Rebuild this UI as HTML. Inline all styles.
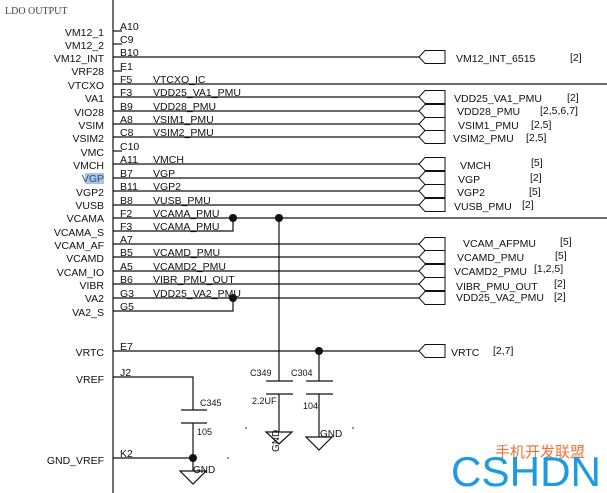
<!DOCTYPE html>
<html><head><meta charset="utf-8"><style>
html,body{margin:0;padding:0;background:#fff;}
svg{display:block;}
text{font-family:"Liberation Sans","Noto Sans CJK SC",sans-serif;font-size:10.5px;fill:#111;}
.r{text-anchor:end;}
</style></head><body>
<svg width="607" height="493" viewBox="0 0 607 493" xmlns="http://www.w3.org/2000/svg">
<g stroke="#111" stroke-width="1.2" fill="none">
<line x1="113" y1="0" x2="113" y2="493"/>
<line x1="113" y1="31" x2="122" y2="31"/>
<line x1="113" y1="44" x2="122" y2="44"/>
<line x1="113" y1="71" x2="122" y2="71"/>
<line x1="113" y1="151" x2="122" y2="151"/>
<line x1="113" y1="57" x2="419" y2="57"/>
<line x1="113" y1="97" x2="419" y2="97"/>
<line x1="113" y1="111" x2="419" y2="111"/>
<line x1="113" y1="124" x2="419" y2="124"/>
<line x1="113" y1="137" x2="419" y2="137"/>
<line x1="113" y1="164" x2="419" y2="164"/>
<line x1="113" y1="178" x2="419" y2="178"/>
<line x1="113" y1="191" x2="419" y2="191"/>
<line x1="113" y1="205" x2="419" y2="205"/>
<line x1="113" y1="244" x2="419" y2="244"/>
<line x1="113" y1="257" x2="419" y2="257"/>
<line x1="113" y1="271" x2="419" y2="271"/>
<line x1="113" y1="284" x2="419" y2="284"/>
<line x1="113" y1="298" x2="419" y2="298"/>
<line x1="113" y1="351" x2="419" y2="351"/>
<line x1="113" y1="84" x2="607" y2="84"/>
<line x1="113" y1="218" x2="607" y2="218"/>
<polyline points="113,231 233,231 233,218"/>
<polyline points="113,311 233,311 233,298"/>
<line x1="279" y1="218" x2="279" y2="381"/>
<line x1="266" y1="381" x2="293" y2="381"/>
<line x1="266" y1="394" x2="293" y2="394"/>
<line x1="279" y1="394" x2="279" y2="432"/>
<polygon points="266,432 292,432 279,444"/>
<line x1="319" y1="351" x2="319" y2="381"/>
<line x1="306" y1="381" x2="333" y2="381"/>
<line x1="306" y1="394" x2="333" y2="394"/>
<line x1="319" y1="394" x2="319" y2="437"/>
<polygon points="306,437 332,437 319,450"/>
<polyline points="113,377 193,377 193,410"/>
<line x1="181" y1="410" x2="207" y2="410"/>
<line x1="181" y1="423" x2="207" y2="423"/>
<line x1="193" y1="423" x2="193" y2="471"/>
<line x1="113" y1="458" x2="193" y2="458"/>
<polygon points="180,471 206,471 193,484"/>
</g>
<g fill="#111">
<circle cx="233" cy="218" r="4"/><circle cx="279" cy="218" r="4"/>
<circle cx="233" cy="298" r="4"/><circle cx="319" cy="351" r="4"/>
<circle cx="193" cy="458" r="4"/>
<circle cx="246" cy="428" r="0.8"/><circle cx="228" cy="458" r="0.8"/><circle cx="353" cy="428" r="0.8"/>
</g>
<g stroke="#111" stroke-width="1" fill="#fff">
<path id="c" d="M419,0 L425,-6.5 L445,-6.5 L445,6.5 L425,6.5 Z" transform="translate(0,57)"/>
<use href="#c" y="40"/><use href="#c" y="54"/><use href="#c" y="67"/><use href="#c" y="80"/>
<use href="#c" y="107"/><use href="#c" y="121"/><use href="#c" y="134"/><use href="#c" y="148"/>
<use href="#c" y="187"/><use href="#c" y="200"/><use href="#c" y="214"/><use href="#c" y="227"/><use href="#c" y="241"/>
<use href="#c" y="294"/>
</g>
<text x="5" y="14" style="font-family:'Liberation Serif',serif;font-size:10px;fill:#444">LDO OUTPUT</text>
<g>
<text class="r" x="104" y="36">VM12_1</text>
<text class="r" x="104" y="49">VM12_2</text>
<text class="r" x="104" y="62">VM12_INT</text>
<text class="r" x="104" y="75">VRF28</text>
<text class="r" x="104" y="89">VTCXO</text>
<text class="r" x="104" y="102">VA1</text>
<text class="r" x="104" y="116">VIO28</text>
<text class="r" x="104" y="129">VSIM</text>
<text class="r" x="104" y="142">VSIM2</text>
<text class="r" x="104" y="156">VMC</text>
<text class="r" x="104" y="169">VMCH</text>
<rect x="85" y="173" width="19" height="11" fill="#a9c4dc"/>
<text class="r" x="104" y="182" style="fill:#2a4f8a">VGP</text>
<text class="r" x="104" y="196">VGP2</text>
<text class="r" x="104" y="209">VUSB</text>
<text class="r" x="104" y="222">VCAMA</text>
<text class="r" x="104" y="236">VCAMA_S</text>
<text class="r" x="104" y="249">VCAM_AF</text>
<text class="r" x="104" y="262">VCAMD</text>
<text class="r" x="104" y="276">VCAM_IO</text>
<text class="r" x="104" y="289">VIBR</text>
<text class="r" x="104" y="302">VA2</text>
<text class="r" x="104" y="316">VA2_S</text>
<text class="r" x="104" y="356">VRTC</text>
<text class="r" x="104" y="383">VREF</text>
<text class="r" x="104" y="464">GND_VREF</text>
</g>
<g>
<text x="120" y="30">A10</text><text x="120" y="43">C9</text><text x="120" y="56">B10</text>
<text x="120" y="70">E1</text><text x="120" y="83">F5</text><text x="120" y="96">F3</text>
<text x="120" y="110">B9</text><text x="120" y="123">A8</text><text x="120" y="136">C8</text>
<text x="120" y="150">C10</text><text x="120" y="163">A11</text><text x="120" y="177">B7</text>
<text x="120" y="190">B11</text><text x="120" y="204">B8</text><text x="120" y="217">F2</text>
<text x="120" y="230">F3</text><text x="120" y="243">A7</text><text x="120" y="256">B5</text>
<text x="120" y="270">A5</text><text x="120" y="283">B6</text><text x="120" y="297">G3</text>
<text x="120" y="310">G5</text><text x="120" y="350">E7</text><text x="120" y="376">J2</text>
<text x="120" y="457">K2</text>
<text x="153" y="83">VTCXO_IC</text><text x="153" y="96">VDD25_VA1_PMU</text>
<text x="153" y="110">VDD28_PMU</text><text x="153" y="123">VSIM1_PMU</text>
<text x="153" y="136">VSIM2_PMU</text><text x="153" y="163">VMCH</text>
<text x="153" y="177">VGP</text><text x="153" y="190">VGP2</text>
<text x="153" y="204">VUSB_PMU</text><text x="153" y="217">VCAMA_PMU</text>
<text x="153" y="230">VCAMA_PMU</text><text x="153" y="256">VCAMD_PMU</text>
<text x="153" y="270">VCAMD2_PMU</text><text x="153" y="283">VIBR_PMU_OUT</text>
<text x="153" y="297">VDD25_VA2_PMU</text>
</g>
<g>
<text x="456" y="62">VM12_INT_6515</text><text x="570" y="61">[2]</text>
<text x="454" y="102">VDD25_VA1_PMU</text><text x="567" y="101">[2]</text>
<text x="457" y="115">VDD28_PMU</text><text x="540" y="114">[2,5,6,7]</text>
<text x="458" y="129">VSIM1_PMU</text><text x="531" y="128">[2,5]</text>
<text x="453" y="142">VSIM2_PMU</text><text x="526" y="141">[2,5]</text>
<text x="460" y="169">VMCH</text><text x="531" y="166">[5]</text>
<text x="458" y="183">VGP</text><text x="530" y="181">[2]</text>
<text x="457" y="196">VGP2</text><text x="529" y="195">[5]</text>
<text x="454" y="210">VUSB_PMU</text><text x="522" y="208">[2]</text>
<text x="463" y="247">VCAM_AFPMU</text><text x="560" y="245">[5]</text>
<text x="457" y="261">VCAMD_PMU</text><text x="555" y="259">[5]</text>
<text x="454" y="275">VCAMD2_PMU</text><text x="534" y="272">[1,2,5]</text>
<text x="456" y="290">VIBR_PMU_OUT</text><text x="554" y="287">[2]</text>
<text x="456" y="301">VDD25_VA2_PMU</text><text x="554" y="300">[2]</text>
<text x="451" y="356">VRTC</text><text x="493" y="354">[2,7]</text>
</g>
<g>
<text x="250" y="376" style="font-size:9px">C349</text><text x="291" y="376" style="font-size:9px">C304</text>
<text x="252" y="404" style="font-size:9px">2.2UF</text><text x="303" y="409" style="font-size:9px">104</text>
<text x="200" y="406" style="font-size:9px">C345</text><text x="197" y="435" style="font-size:9px">105</text>
<text x="320" y="437" style="font-size:10px">GND</text><text x="193" y="473" style="font-size:10px">GND</text>
<text x="0" y="0" transform="translate(279,452) rotate(-90)" style="font-size:10px">GND</text>
</g>
<text x="495" y="457" style="font-size:15px;fill:#e8743b;font-family:'Noto Sans CJK SC',sans-serif">手机开发联盟</text>
<text x="451" y="486" textLength="150" lengthAdjust="spacingAndGlyphs" style="font-size:42px;fill:#1e9be0">CSHDN</text>
</svg>
</body></html>
